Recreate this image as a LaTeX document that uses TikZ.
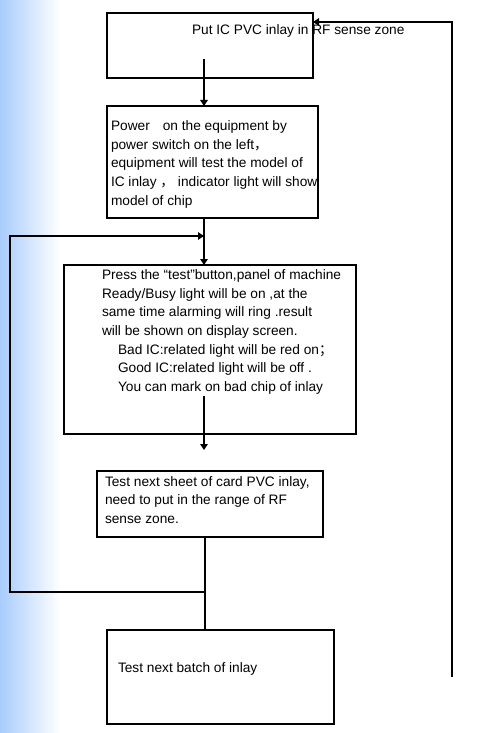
\documentclass[tikz,border=0pt]{standalone}
\usepackage{fontspec}
\setmainfont{Liberation Sans}
\newfontfamily\cjk{Noto Sans CJK SC}
\usetikzlibrary{arrows.meta}
\definecolor{leftblue}{RGB}{168,204,252}
\tikzset{
  boxshape/.style={draw=black, line width=2pt, inner sep=0pt, outer sep=0pt, anchor=north west},
  txt/.style={anchor=base west, inner sep=0pt, outer sep=0pt, font=\fontsize{13.7}{18.7}\selectfont},
  conn/.style={draw=black, line width=2pt},
  arr/.style={conn, -{Triangle[length=6pt,width=7.5pt]}}
}
\begin{document}
\begin{tikzpicture}[x=1pt,y=1pt]
\useasboundingbox (0,0) rectangle (481,-733);
\fill[white] (0,0) rectangle (481,-733);
\shade[left color=leftblue, right color=white] (0,0) rectangle (60,-733);

% texts
\node[txt] (t1) at (192,-35) {Put IC PVC inlay in RF sense zone};

\node[txt] (t2a) at (111,-130.5) {Power\hspace{13pt}on the equipment by};
\node[txt] (t2b) at (111,-149.2) {power switch on the left{\cjk ，}};
\node[txt] (t2c) at (111,-167.9) {equipment will test the model of};
\node[txt] (t2d) at (111,-186.6) {IC inlay {\cjk ，} indicator light will show};
\node[txt] (t2e) at (111,-205.3) {model of chip};

\node[txt] (t3a) at (102,-279.3) {Press the “test”button,panel of machine};
\node[txt] (t3b) at (102,-298.0) {Ready/Busy light will be on ,at the};
\node[txt] (t3c) at (102,-316.7) {same time alarming will ring .result};
\node[txt] (t3d) at (102,-335.4) {will be shown on display screen.};
\node[txt] (t3e) at (118,-354.1) {Bad IC:related light will be red on{\cjk ；}};
\node[txt] (t3f) at (118,-372.8) {Good IC:related light will be off .};
\node[txt] (t3g) at (118,-391.5) {You can mark on bad chip of inlay};

\node[txt] (t4a) at (105,-486.0) {Test next sheet of card PVC inlay,};
\node[txt] (t4b) at (105,-504.7) {need to put in the range of RF};
\node[txt] (t4c) at (105,-523.4) {sense zone.};

\node[txt] (t5) at (118,-672) {Test next batch of inlay};

% boxes
\node[boxshape, minimum width=206pt, minimum height=65pt] (b1) at (107,-13) {};
\node[boxshape, minimum width=211pt, minimum height=112pt] (b2) at (107,-106) {};
\node[boxshape, minimum width=292pt, minimum height=169pt] (b3) at (64,-265) {};
\node[boxshape, minimum width=226pt, minimum height=66pt] (b4) at (97,-471) {};
\node[boxshape, minimum width=227pt, minimum height=94pt] (b5) at (107,-630) {};

% connector points
\coordinate (s1) at (204,-59);
\coordinate (j1) at (204,-236);
\coordinate (s3) at (204,-396);
\coordinate (e3) at (204,-450);
\coordinate (j2) at (205,-592);
\coordinate (L1) at (10,-592);
\coordinate (L2) at (10,-236);
\coordinate (r0) at (452,-677);
\coordinate (r1) at (452,-22);

% connectors
\draw[arr] (s1) -- (s1 |- b2.north);
\draw[arr] (b2.south -| s1) -- (b3.north -| s1);
\draw[arr] (j2) -- (L1) -- (L2) -- (j1);
\draw[arr] (s3) -- (e3);
\draw[conn] (b4.south -| j2) -- (b5.north -| j2);
\draw[arr] (r0) -- (r1) -- (b1.east |- r1);
\end{tikzpicture}
\end{document}
